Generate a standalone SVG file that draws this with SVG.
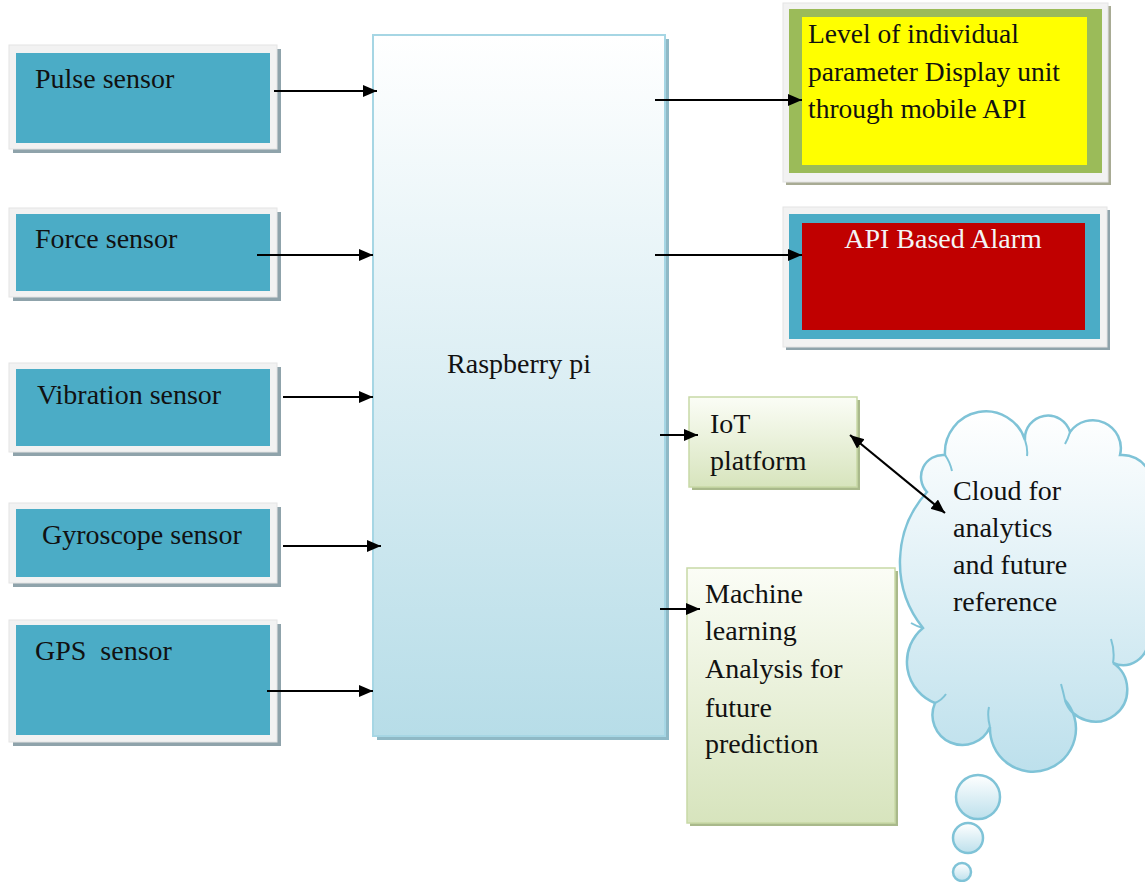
<svg xmlns="http://www.w3.org/2000/svg" width="1145" height="882" viewBox="0 0 1145 882">
<defs>
<style>
.t{font-family:"Liberation Serif","Times New Roman",serif;font-size:28px;fill:#111}
.frame{fill:#f2f2f2;stroke:#e4e4e4;stroke-width:1}
.sh{fill:#8fa3ab}
.teal{fill:#4bacc6}
.conn{stroke:#000;stroke-width:2.2;fill:none}
</style>
<linearGradient id="gRpi" x1="0" y1="0" x2="0" y2="1">
<stop offset="0" stop-color="#ffffff"/><stop offset="1" stop-color="#b7dde8"/>
</linearGradient>
<linearGradient id="gGreen" x1="0" y1="0" x2="0" y2="1">
<stop offset="0" stop-color="#fbfdf6"/><stop offset="1" stop-color="#d7e4bd"/>
</linearGradient>
<linearGradient id="gCloud" x1="0" y1="0" x2="0" y2="1">
<stop offset="0" stop-color="#ffffff"/><stop offset="1" stop-color="#bde0ec"/>
</linearGradient>
<marker id="ah" markerUnits="userSpaceOnUse" markerWidth="15" markerHeight="13" refX="14" refY="6" orient="auto-start-reverse">
<path d="M0,0 L14,6 L0,12 z" fill="#000"/>
</marker>
</defs>
<rect width="1145" height="882" fill="#ffffff"/>

<g id="pulse">
<rect class="sh" x="13" y="49" width="268" height="104"/>
<rect class="frame" x="9" y="45" width="268" height="104"/>
<rect class="teal" x="16" y="53" width="254" height="90"/>
<text class="t" x="35" y="88">Pulse sensor</text>
</g>
<g id="force">
<rect class="sh" x="13" y="212" width="268" height="89"/>
<rect class="frame" x="9" y="208" width="268" height="89"/>
<rect class="teal" x="16" y="214" width="254" height="77"/>
<text class="t" x="35" y="248">Force sensor</text>
</g>
<g id="vibration">
<rect class="sh" x="13" y="367" width="268" height="89"/>
<rect class="frame" x="9" y="363" width="268" height="89"/>
<rect class="teal" x="16" y="369" width="254" height="77"/>
<text class="t" x="37" y="404">Vibration sensor</text>
</g>
<g id="gyroscope">
<rect class="sh" x="13" y="507" width="268" height="80"/>
<rect class="frame" x="9" y="503" width="268" height="80"/>
<rect class="teal" x="16" y="509" width="254" height="68"/>
<text class="t" x="42" y="544">Gyroscope sensor</text>
</g>
<g id="gps">
<rect class="sh" x="13" y="624" width="268" height="122"/>
<rect class="frame" x="9" y="620" width="268" height="122"/>
<rect class="teal" x="16" y="625" width="254" height="110"/>
<text class="t" x="35" y="660" style="white-space:pre">GPS  sensor</text>
</g>

<g id="raspberry">
<rect x="377" y="39" width="292" height="701" fill="#8fb9c6"/>
<rect x="373" y="35" width="292" height="701" fill="url(#gRpi)" stroke="#a6d6e4" stroke-width="2"/>
<text class="t" x="519" y="373" text-anchor="middle">Raspberry pi</text>
</g>

<g id="display">
<rect x="786" y="6" width="325" height="179" fill="#a8ab94"/>
<rect class="frame" x="783" y="3" width="325" height="179"/>
<rect x="789" y="9" width="313" height="164" fill="#9bbb59"/>
<rect x="802" y="17" width="285" height="148" fill="#ffff00"/>
<text class="t" style="font-size:27.5px"><tspan x="808" y="43">Level of individual</tspan><tspan x="808" y="81">parameter Display unit</tspan><tspan x="808" y="118">through mobile API</tspan></text>
</g>

<g id="alarm">
<rect x="786" y="210" width="324" height="140" fill="#8fa3ab"/>
<rect class="frame" x="783" y="207" width="324" height="140"/>
<rect class="teal" x="789" y="214" width="311" height="125"/>
<rect x="802" y="223" width="283" height="107" fill="#c00000"/>
<text class="t" x="943" y="248" text-anchor="middle" style="fill:#f4f4f4">API Based Alarm</text>
</g>

<g id="iot">
<rect x="692" y="400" width="168" height="90" fill="#a9b98b"/>
<rect x="689" y="397" width="168" height="90" fill="url(#gGreen)" stroke="#c8d9a6" stroke-width="1.5"/>
<text class="t"><tspan x="710" y="433">IoT</tspan><tspan x="710" y="470">platform</tspan></text>
</g>

<g id="ml">
<rect x="690" y="571" width="208" height="255" fill="#a9b98b"/>
<rect x="687" y="568" width="208" height="255" fill="url(#gGreen)" stroke="#c8d9a6" stroke-width="1.5"/>
<text class="t"><tspan x="705" y="603">Machine</tspan><tspan x="705" y="640">learning</tspan><tspan x="705" y="678">Analysis for</tspan><tspan x="705" y="717">future</tspan><tspan x="705" y="753">prediction</tspan></text>
</g>

<g id="cloud">
<path d="M927,492 A22,22 0 0 1 945,455 A41,41 0 0 1 1025,440 A23,23 0 0 1 1070,432 A28,28 0 0 1 1120,455 A30,30 0 0 1 1148,500 L1148,640 A25,25 0 0 1 1113,663 A32,32 0 1 1 1065,700 A43,43 0 1 1 990,727 A30,30 0 0 1 935,703 A44,44 0 0 1 923,628 A105,105 0 0 1 927,492 Z" fill="url(#gCloud)" stroke="#7fc3d7" stroke-width="2.5"/>
<path d="M945,455 q5,7 7,16 M1025,440 q3,9 2,16 M1070,432 q-2,7 -5,12 M1113,663 q2,-12 -2,-24 M1065,700 q-2,-9 -4,-16 M990,727 q-3,-11 -1,-20 M935,703 q7,-3 11,-9 M923,628 q-7,-2 -12,-5" fill="none" stroke="#7fc3d7" stroke-width="2"/>
<circle cx="978" cy="797" r="22" fill="url(#gCloud)" stroke="#7fc3d7" stroke-width="2.5"/>
<circle cx="968" cy="838" r="15" fill="url(#gCloud)" stroke="#7fc3d7" stroke-width="2.5"/>
<circle cx="962" cy="872" r="9" fill="url(#gCloud)" stroke="#7fc3d7" stroke-width="2.5"/>
<text class="t"><tspan x="953" y="500">Cloud for</tspan><tspan x="953" y="537">analytics</tspan><tspan x="953" y="574">and future</tspan><tspan x="953" y="611">reference</tspan></text>
</g>

<g id="connectors">
<line class="conn" x1="274" y1="91" x2="377" y2="91" marker-end="url(#ah)"/>
<line class="conn" x1="257" y1="255" x2="373" y2="255" marker-end="url(#ah)"/>
<line class="conn" x1="283" y1="397" x2="373" y2="397" marker-end="url(#ah)"/>
<line class="conn" x1="283" y1="546" x2="381" y2="546" marker-end="url(#ah)"/>
<line class="conn" x1="267" y1="691" x2="373" y2="691" marker-end="url(#ah)"/>
<line class="conn" x1="655" y1="100" x2="802" y2="100" marker-end="url(#ah)"/>
<line class="conn" x1="655" y1="255" x2="802" y2="255" marker-end="url(#ah)"/>
<line class="conn" x1="660" y1="435" x2="698" y2="435" marker-end="url(#ah)"/>
<line class="conn" x1="660" y1="609" x2="700" y2="609" marker-end="url(#ah)"/>
<line class="conn" x1="850" y1="435" x2="945" y2="513" marker-start="url(#ah)" marker-end="url(#ah)"/>
</g>
</svg>
